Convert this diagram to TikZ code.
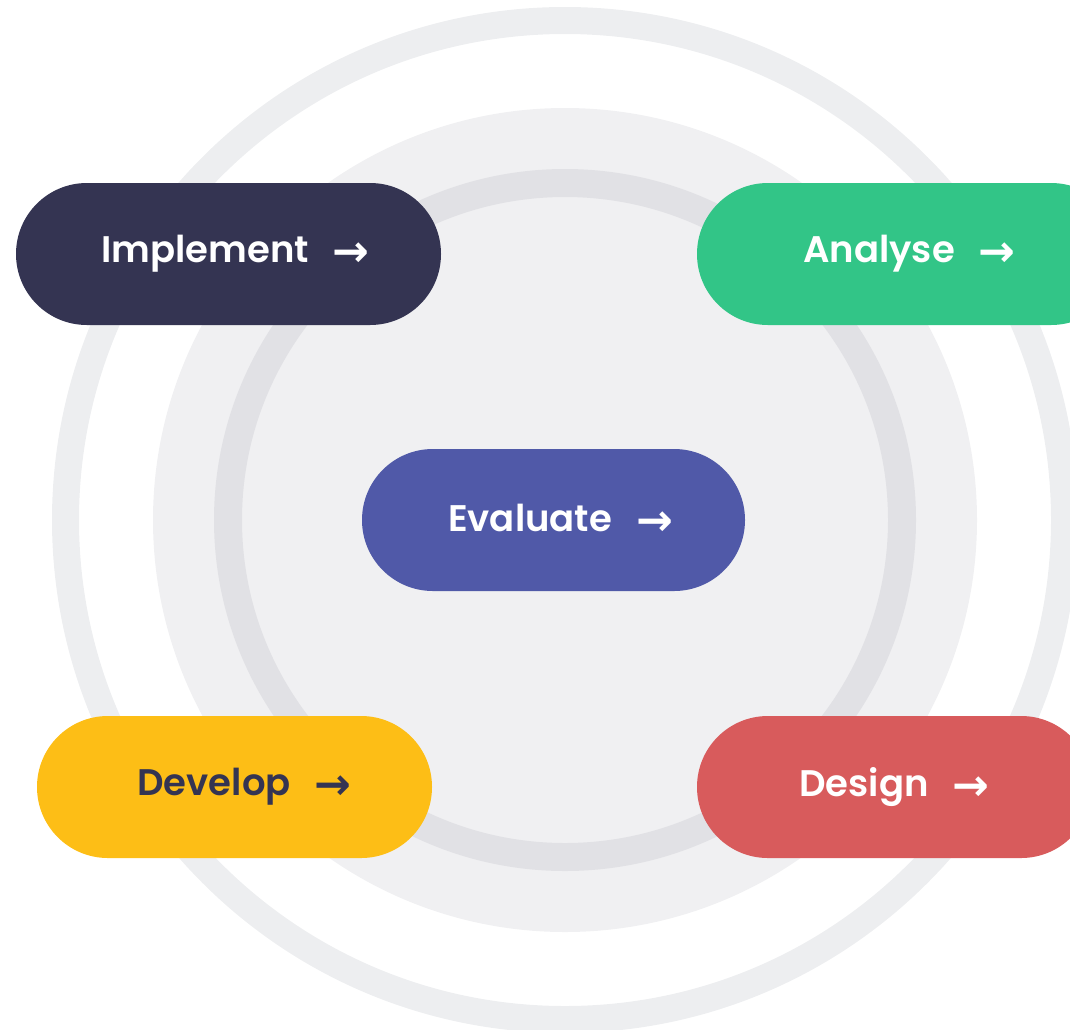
\documentclass[tikz,border=0pt]{standalone}
\usepackage{fontspec}
\setmainfont{Poppins}[BoldFont={Poppins SemiBold}]
\newfontfamily\arrowfont{DejaVu Sans}
\usetikzlibrary{positioning}

\definecolor{outerring}{HTML}{EDEEF0}
\definecolor{diskfill}{HTML}{F0F0F2}
\definecolor{innerring}{HTML}{E1E1E5}
\definecolor{navy}{HTML}{343452}
\definecolor{mint}{HTML}{32C587}
\definecolor{indigo}{HTML}{5059A8}
\definecolor{amber}{HTML}{FDBE16}
\definecolor{coral}{HTML}{D85B5C}

\newcommand{\steparrow}{\hspace{24pt}\raisebox{-4pt}{\arrowfont\fontsize{44}{44}\selectfont →}}

\begin{document}
\begin{tikzpicture}[x=1pt, y=-1pt,
    pill/.style={rounded corners=70.9pt, minimum height=142pt, inner sep=0pt,
        text=white, font=\bfseries\fontsize{37}{37}\selectfont}]
        \clip (0,0) rectangle (1070,1029);

        % Background rings
        \draw[outerring, line width=27pt] (565,520) circle (499.5pt);
        \fill[diskfill] (565,520) circle (412pt);
        \draw[innerring, line width=28pt] (565,520) circle (337pt);

        % Phase pills
        \node[pill, fill=navy, minimum width=425pt] (implement) at (228.5,254)
            {\hspace*{14pt}Implement\steparrow};
        \node[pill, fill=mint, minimum width=425pt] (analyse) at (909.5,254)
            {Analyse\steparrow};
        \node[pill, fill=indigo, minimum width=383pt] (evaluate) at (553.5,520)
            {\hspace*{14pt}Evaluate\steparrow};
        \node[pill, fill=amber, text=navy, minimum width=395pt] (develop) at (234.5,787)
            {\hspace*{20pt}Develop\steparrow};
        \node[pill, fill=coral, minimum width=395pt] (design) at (894.5,787)
            {Design\steparrow};

    \end{tikzpicture}
\end{document}
